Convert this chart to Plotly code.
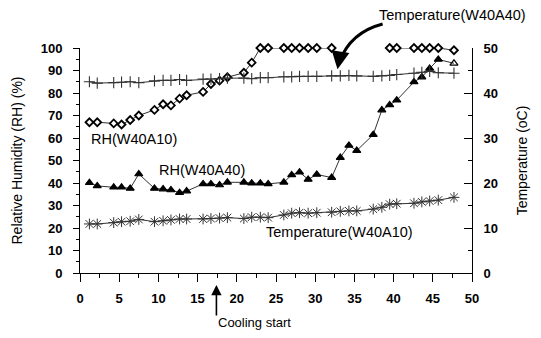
import plotly.graph_objects as go

# Measurement times (x axis)
time = [1.2, 2.2, 4.3, 5.3, 6.4, 7.5, 9.5, 10.6, 11.6, 12.7, 13.6, 15.7, 16.7, 17.8, 18.8,
        20.9, 21.9, 23.0, 24.0, 26.0, 27.0, 28.0, 29.1, 30.2, 32.1, 33.2, 34.3, 35.3, 37.4,
        38.5, 39.5, 40.4, 42.6, 43.6, 44.6, 45.7, 47.7]

# RH (W40A10) - diamonds, left axis (gap where no data)
rh_w40a10 = [67, 67, 66.5, 66, 68, 70, 72.5, 75, 74.5, 77.5, 79, 80.5, 84, 85.5, 87,
             89, 93.5, 100, 100, 100, 100, 100, 100, 100, 100, None, None, None, None,
             None, 100, 100, 100, 100, 100, 100, 99]

# RH (W40A40) - triangles, left axis
rh_w40a40 = [40.1, 38.7, 38.1, 38.1, 37.6, 44, 37.6, 37.3, 36.9, 35.7, 36.4, 39.6, 39.6, 39.1, 40.3,
             40.3, 39.9, 39.9, 39.6, 40.3, 43.6, 44.8, 41.6, 43.8, 42.4, 51.3, 56.7, 54.4, 61.5,
             72.4, 74.7, 76.8, 84.9, 87.1, 90.9, 94.9, 93.2]

# Temperature (W40A40) - crosses, right axis
temp_w40a40 = [42.5, 42.2, 42.3, 42.4, 42.5, 42.3, 42.7, 42.8, 42.8, 43.0, 42.8, 43.1, 43.1, 43.2, 43.3,
               43.3, 43.2, 43.4, 43.4, 43.6, 43.6, 43.7, 43.7, 43.7, 43.8, 43.8, 43.9, 43.8, 43.7,
               43.8, 43.9, 44.1, 44.4, 44.6, 44.8, 44.5, 44.4]

# Temperature (W40A10) - asterisks, right axis
temp_w40a10 = [10.9, 10.9, 11.2, 11.4, 11.5, 11.9, 11.4, 11.6, 11.8, 12.0, 12.0, 12.0, 12.1, 12.2, 12.3,
               12.1, 12.4, 12.4, 12.3, 12.9, 13.3, 13.4, 13.3, 13.4, 13.5, 13.7, 13.8, 13.8, 14.2,
               14.6, 15.3, 15.4, 15.5, 15.8, 16.0, 16.2, 16.8]

x_ticks = list(range(0, 51, 5))
y_ticks = list(range(0, 101, 10))
y2_ticks = list(range(0, 51, 10))

FONT = "Liberation Sans, Arial, sans-serif"
line_col = "#333333"

fig = go.Figure()

fig.add_trace(go.Scatter(
    x=time, y=temp_w40a40, yaxis="y2", mode="lines+markers", connectgaps=False, cliponaxis=False,
    line=dict(color=line_col, width=1),
    marker=dict(symbol="cross-thin-open", size=8, line=dict(color="black", width=1.1)),
    showlegend=False))

fig.add_trace(go.Scatter(
    x=time, y=temp_w40a10, yaxis="y2", mode="lines+markers", cliponaxis=False,
    line=dict(color=line_col, width=1),
    marker=dict(symbol="asterisk-open", size=9, line=dict(color="black", width=1)),
    showlegend=False))

fig.add_trace(go.Scatter(
    x=time, y=rh_w40a10, mode="lines+markers", connectgaps=False, cliponaxis=False,
    line=dict(color=line_col, width=1),
    marker=dict(symbol="diamond", size=6, color="white", line=dict(color="black", width=1.8)),
    showlegend=False))

tri_symbols = ["triangle-up"] * (len(time) - 1) + ["triangle-up-open"]
fig.add_trace(go.Scatter(
    x=time, y=rh_w40a40, mode="lines+markers", cliponaxis=False,
    line=dict(color=line_col, width=1),
    marker=dict(symbol=tri_symbols, size=7, color="black", line=dict(color="black", width=1.2)),
    showlegend=False))

TICKFONT = dict(family=FONT, size=13, color="black", weight="bold")
axis_common = dict(showgrid=False, zeroline=False, showline=True, linecolor="black", linewidth=1,
                   tickfont=TICKFONT)

fig.update_layout(
    width=541, height=338,
    margin=dict(l=80, r=69, t=48, b=65),
    paper_bgcolor="white", plot_bgcolor="white",
    font=dict(family=FONT, size=13, color="black"),
    xaxis=dict(range=[0, 50], tickvals=x_ticks, ticks="outside", ticklen=8, tickcolor="black",
               ticklabelstandoff=5,
               minor=dict(dtick=2.5, ticks="outside", ticklen=4, tickcolor="black"),
               **axis_common),
    yaxis=dict(range=[0, 100], tickvals=y_ticks, ticks="outside", ticklen=6, tickcolor="black",
               ticklabelstandoff=8,
               minor=dict(dtick=5, ticks="outside", ticklen=3, tickcolor="black"),
               title=dict(text="Relative Humidity (RH) (%)", font=dict(family=FONT, size=14),
                          standoff=14),
               **axis_common),
    yaxis2=dict(range=[0, 50], tickvals=y2_ticks, overlaying="y", side="right",
                ticks="inside", ticklen=8, tickcolor="black", ticklabelstandoff=8,
                minor=dict(dtick=5, ticks="inside", ticklen=4, tickcolor="black"),
                title=dict(text="Temperature (oC)", font=dict(family=FONT, size=14), standoff=20),
                **axis_common),
)

def label(text, x, y, xref="x", yref="y", size=14.5):
    fig.add_annotation(text=text, x=x, y=y, xref=xref, yref=yref, showarrow=False,
                       xanchor="center", yanchor="middle",
                       font=dict(family=FONT, size=size, color="black"))

label("RH(W40A10)", 6.9, 59.6)
label("RH(W40A40)", 15.6, 45.8)
label("Temperature(W40A10)", 33.1, 18.4)
label("Temperature(W40A40)", 0.95, 1.147, xref="paper", yref="paper")
label("Cooling start", 0.445, -0.218, xref="paper", yref="paper", size=13)

# curved arrow to Temperature(W40A40) line
fig.add_shape(type="path", xref="paper", yref="paper",
              path="M 0.772 1.107 Q 0.69 1.07 0.662 0.94",
              line=dict(color="black", width=3))
fig.add_annotation(x=0.657, y=0.905, xref="paper", yref="paper", ax=2, ay=-12,
                   text="", showarrow=True, arrowhead=2, arrowsize=1.2, arrowwidth=3,
                   arrowcolor="black")

# Cooling start arrow
fig.add_annotation(x=0.348, y=-0.053, xref="paper", yref="paper", ax=0, ay=32,
                   text="", showarrow=True, arrowhead=2, arrowsize=1.3, arrowwidth=1.6,
                   arrowcolor="black")

fig.write_html("out.html")
